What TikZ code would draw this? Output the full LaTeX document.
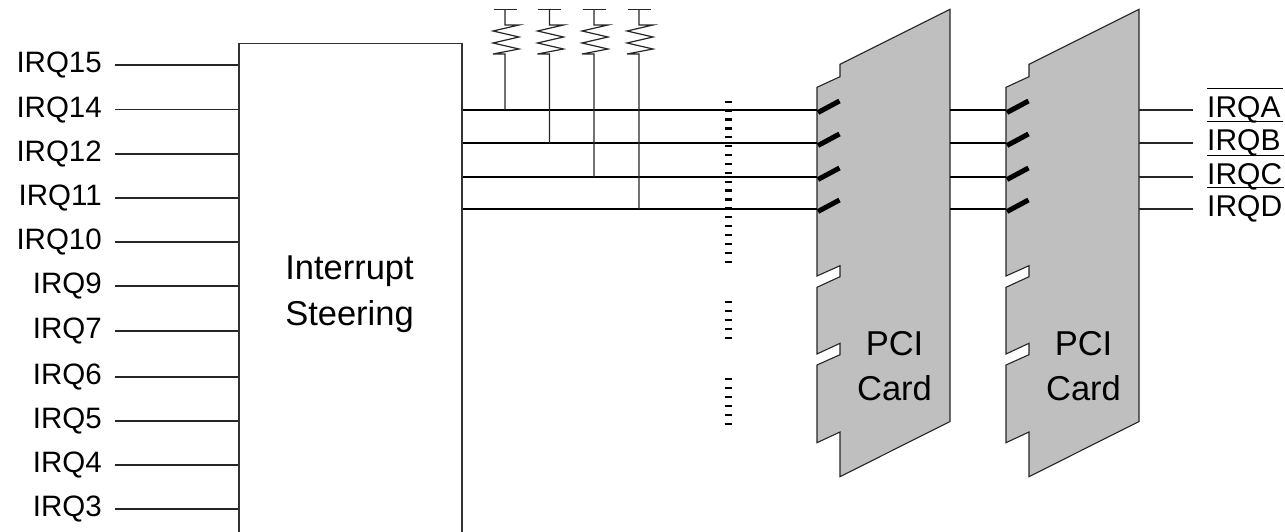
\documentclass[tikz,border=0pt]{standalone}
\usepackage{fontspec}
\setmainfont{Liberation Sans}
\begin{document}
\begin{tikzpicture}[x=1pt,y=-1pt,
  inp/.style={line width=1.2pt, draw=black!85},
  bus/.style={line width=2pt, draw=black},
  wire/.style={line width=1.2pt, draw=black!85},
  contact/.style={line width=5pt, draw=black},
  cardshape/.style={fill=black!25, draw=black!85, line width=1.1pt, line join=miter},
  steerbox/.style={draw=black!80, line width=1.5pt, minimum width=223pt, minimum height=520pt, inner sep=0pt},
  lbl/.style={font=\fontsize{29.5}{35}\selectfont, inner sep=0pt},
  biglbl/.style={font=\fontsize{34.5}{45.5}\selectfont, inner sep=0pt, align=center},
  tick/.style={line width=2.3pt, draw=black}]
\useasboundingbox (0,0) rectangle (1285,532);
\clip (0,0) rectangle (1285,532);

% steering box
\node[steerbox, anchor=north west] (box) at (238,42.7) {};
\node[biglbl] (steer) at (349.5,294) {Interrupt\\Steering};

% left IRQ inputs
\foreach \nm/\yy in {15/65,14/109.5,12/154,11/198,10/242,9/286,7/331,6/377,5/421,4/465,3/509}{
  \node[lbl, anchor=east] (l\nm) at (102,\yy) {IRQ\nm};
  \draw[inp] ([xshift=13pt]l\nm.east) -- (l\nm.east -| box.west);
}

% card outlines
\foreach \cx/\cn in {817/1,1006/2}{
  \begin{scope}[shift={(\cx,0)}]
    \filldraw[cardshape] (0,87.3) -- (23,76.7) -- (23,64.3) -- (133,9.3) -- (133,421.5)
      -- (23,476.7) -- (23,432) -- (0,442.7) -- (0,365) -- (23,354.7) -- (23,343.3)
      -- (0,354) -- (0,287.3) -- (23,276.7) -- (23,265.7) -- (0,276) -- cycle;
    \coordinate (card\cn w) at (0,0);
    \coordinate (card\cn e) at (133,0);
  \end{scope}
}
\node[biglbl] (pci1) at (894.5,366) {PCI\\Card};
\node[biglbl] (pci2) at (1083.5,366) {PCI\\Card};

% bus lines and contacts
\foreach \yy/\ll in {110/A,143/B,177/C,209/D}{
  \coordinate (a\ll) at (817,\yy);
  \coordinate (b\ll) at (950,\yy);
  \coordinate (c\ll) at (1006,\yy);
  \coordinate (d\ll) at (1139,\yy);
  \draw[bus] (box.east |- a\ll) -- (a\ll);
  \draw[bus] (b\ll) -- (c\ll);
  \draw[wire] (d\ll) -- ++(54,0) coordinate (e\ll);
  \draw[contact] (818,\yy+2.5) -- (839.5,\yy-9);
  \draw[contact] (1007,\yy+2.5) -- (1028.5,\yy-9);
  \node[lbl, font=\fontsize{30}{36}\selectfont, anchor=west] (r\ll) at ([xshift=14pt]e\ll) {IRQ\ll};
  \draw[line width=1.3pt] ([yshift=8.2pt]r\ll.north west) -- ([yshift=8.2pt,xshift=2pt]r\ll.north east);
}

% pull-up resistors
\foreach \xx/\ll in {505/A,549.5/B,594/C,639/D}{
  \coordinate (top\ll) at (\xx,9.3);
  \draw[wire] ([xshift=-11.5pt]top\ll) -- ([xshift=11.5pt]top\ll);
  \draw[wire, line join=miter] (top\ll) -- (\xx,25) -- (\xx+14,25) -- (\xx-12,31) -- (\xx+14,37)
     -- (\xx-12,43) -- (\xx+14,49) -- (\xx-12,54) -- (\xx,54) -- (top\ll |- a\ll);
}

% dotted continuation marks
\foreach \k in {0,...,18}{\draw[tick] (724.6,101.7+8.89*\k) -- ++(7,0);}
\foreach \k in {0,...,4}{\draw[tick] (724.6,301.7+9*\k) -- ++(7,0);}
\foreach \k in {0,...,5}{\draw[tick] (724.6,379.3+8.95*\k) -- ++(7,0);}
\end{tikzpicture}
\end{document}
